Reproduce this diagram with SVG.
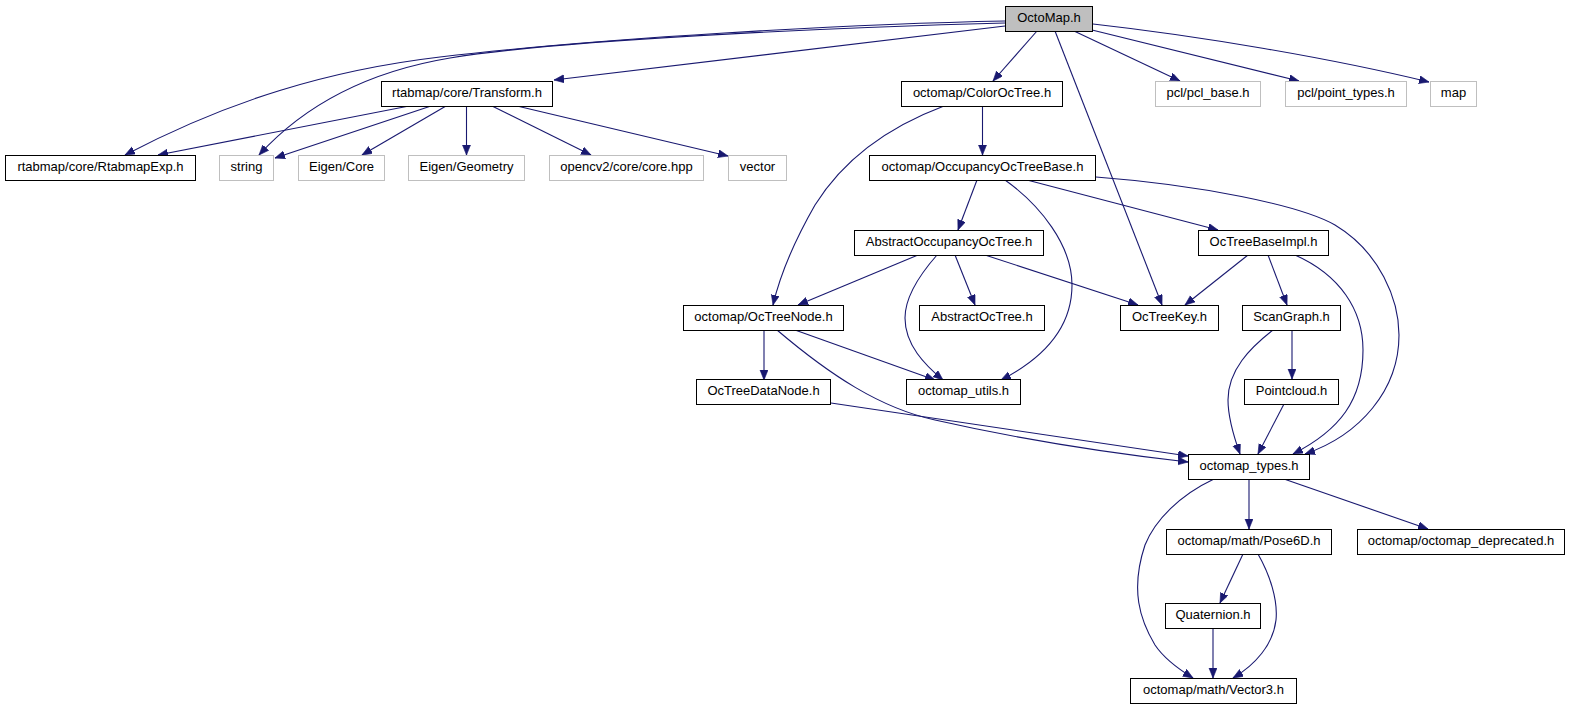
<svg xmlns="http://www.w3.org/2000/svg" width="1571" height="709" viewBox="0 0 1571 709">
<style>
.n rect{fill:#fff;stroke:#000;stroke-width:1}
.g rect{fill:#fff;stroke:#bfbfbf;stroke-width:1}
.c rect{fill:#bfbfbf;stroke:#000;stroke-width:1}
text{font-family:"Liberation Sans",Arial,sans-serif;font-size:13px;fill:#000;text-anchor:middle}
#edges path{fill:none;stroke:#191970;stroke-width:1.1;marker-end:url(#ah)}
</style>
<defs>
<marker id="ah" markerUnits="userSpaceOnUse" markerWidth="12" markerHeight="10" refX="10" refY="4" orient="auto">
<path d="M0,0 L10,4 L0,8 z" fill="#191970" stroke="#191970" stroke-width="0.6"/>
</marker>
</defs>
<rect width="1571" height="709" fill="#fff"/>
<g id="edges">
<path d="M1005,21 C850,24 600,38 440,57 C330,70 230,100 125,155"/>
<path d="M1005,23 C820,28 560,40 450,58 C360,73 300,110 259,155"/>
<path d="M1005,26 L554,80"/>
<path d="M1037,31 L993,81"/>
<path d="M1055,31 L1162,305"/>
<path d="M1074,31 L1180,81"/>
<path d="M1092,30 L1299,81"/>
<path d="M1093,24 C1200,36 1330,58 1429,82"/>
<path d="M409,106 L158,155"/>
<path d="M431,106 L275,158"/>
<path d="M446,106 L362,155"/>
<path d="M466.5,106 L466.5,155"/>
<path d="M492,106 L591,155"/>
<path d="M517,106 L728,156"/>
<path d="M982.5,106 L982.5,155"/>
<path d="M944,106 C880,130 840,165 815,205 C795,240 780,275 773,305"/>
<path d="M977,180 L958,230"/>
<path d="M1005,180 C1040,205 1072,245 1072,285 C1072,330 1040,360 1001,380"/>
<path d="M1027,180 L1218,230"/>
<path d="M1096,177 C1200,185 1300,205 1335,225 C1380,252 1399,300 1399,335 C1399,390 1360,435 1305,454"/>
<path d="M918,255 L798,305"/>
<path d="M937,255 C915,280 905,300 905,318 C905,345 925,365 943,380"/>
<path d="M955,255 L975,305"/>
<path d="M985,255 L1138,305"/>
<path d="M1248,255 L1185,305"/>
<path d="M1268,255 L1287,305"/>
<path d="M1295,255 C1340,275 1363,310 1363,350 C1363,400 1340,430 1293,454"/>
<path d="M764,330 L764,380"/>
<path d="M795,330 L935,380"/>
<path d="M777,330 C830,375 880,408 935,420 C1010,437 1100,452 1188,462"/>
<path d="M831,403 L1188,456"/>
<path d="M1292,330 L1292,379"/>
<path d="M1273,330 C1250,348 1228,370 1228,400 C1228,420 1235,440 1240,454"/>
<path d="M1284,404 L1258,454"/>
<path d="M1249,479 L1249,529"/>
<path d="M1284,479 L1428,529"/>
<path d="M1214,479 C1180,495 1155,520 1145,545 C1130,590 1140,620 1155,645 C1165,660 1180,670 1193,678"/>
<path d="M1243,554 L1220,603"/>
<path d="M1258,554 C1270,575 1278,600 1276,620 C1273,645 1255,665 1233,678"/>
<path d="M1213,628 L1213,678"/>
</g>
<g id="n_octomap" class="c"><rect x="1005.5" y="6.5" width="87" height="25"/><text x="1049" y="22">OctoMap.h</text></g>
<g id="n_transform" class="n"><rect x="381.5" y="81.5" width="171" height="25"/><text x="467" y="97">rtabmap/core/Transform.h</text></g>
<g id="n_rtabmapexp" class="n"><rect x="5.5" y="155.5" width="190" height="25"/><text x="100.5" y="171">rtabmap/core/RtabmapExp.h</text></g>
<g id="n_string" class="g"><rect x="219.5" y="155.5" width="54" height="25"/><text x="246.5" y="171">string</text></g>
<g id="n_eigencore" class="g"><rect x="298.5" y="155.5" width="86" height="25"/><text x="341.5" y="171">Eigen/Core</text></g>
<g id="n_eigengeom" class="g"><rect x="408.5" y="155.5" width="116" height="25"/><text x="466.5" y="171">Eigen/Geometry</text></g>
<g id="n_opencv" class="g"><rect x="549.5" y="155.5" width="154" height="25"/><text x="626.5" y="171">opencv2/core/core.hpp</text></g>
<g id="n_vector" class="g"><rect x="728.5" y="155.5" width="58" height="25"/><text x="757.5" y="171">vector</text></g>
<g id="n_coloroctree" class="n"><rect x="901.5" y="81.5" width="161" height="25"/><text x="982" y="97">octomap/ColorOcTree.h</text></g>
<g id="n_pclbase" class="g"><rect x="1155.5" y="81.5" width="105" height="25"/><text x="1208" y="97">pcl/pcl_base.h</text></g>
<g id="n_pointtypes" class="g"><rect x="1285.5" y="81.5" width="121" height="25"/><text x="1346" y="97">pcl/point_types.h</text></g>
<g id="n_map" class="g"><rect x="1430.5" y="81.5" width="46" height="25"/><text x="1453.5" y="97">map</text></g>
<g id="n_occbase" class="n"><rect x="869.5" y="155.5" width="226" height="25"/><text x="982.5" y="171">octomap/OccupancyOcTreeBase.h</text></g>
<g id="n_absocc" class="n"><rect x="854.5" y="230.5" width="189" height="25"/><text x="949" y="246">AbstractOccupancyOcTree.h</text></g>
<g id="n_baseimpl" class="n"><rect x="1198.5" y="230.5" width="130" height="25"/><text x="1263.5" y="246">OcTreeBaseImpl.h</text></g>
<g id="n_octreenode" class="n"><rect x="683.5" y="305.5" width="160" height="25"/><text x="763.5" y="321">octomap/OcTreeNode.h</text></g>
<g id="n_absoctree" class="n"><rect x="919.5" y="305.5" width="125" height="25"/><text x="982" y="321">AbstractOcTree.h</text></g>
<g id="n_octreekey" class="n"><rect x="1120.5" y="305.5" width="98" height="25"/><text x="1169.5" y="321">OcTreeKey.h</text></g>
<g id="n_scangraph" class="n"><rect x="1242.5" y="305.5" width="98" height="25"/><text x="1291.5" y="321">ScanGraph.h</text></g>
<g id="n_datanode" class="n"><rect x="696.5" y="379.5" width="134" height="25"/><text x="763.5" y="395">OcTreeDataNode.h</text></g>
<g id="n_utils" class="n"><rect x="906.5" y="379.5" width="114" height="25"/><text x="963.5" y="395">octomap_utils.h</text></g>
<g id="n_pointcloud" class="n"><rect x="1244.5" y="379.5" width="94" height="25"/><text x="1291.5" y="395">Pointcloud.h</text></g>
<g id="n_types" class="n"><rect x="1188.5" y="454.5" width="121" height="25"/><text x="1249" y="470">octomap_types.h</text></g>
<g id="n_pose6d" class="n"><rect x="1166.5" y="529.5" width="165" height="25"/><text x="1249" y="545">octomap/math/Pose6D.h</text></g>
<g id="n_deprecated" class="n"><rect x="1357.5" y="529.5" width="207" height="25"/><text x="1461" y="545">octomap/octomap_deprecated.h</text></g>
<g id="n_quaternion" class="n"><rect x="1165.5" y="603.5" width="95" height="25"/><text x="1213" y="619">Quaternion.h</text></g>
<g id="n_vector3" class="n"><rect x="1130.5" y="678.5" width="166" height="25"/><text x="1213.5" y="694">octomap/math/Vector3.h</text></g>
</svg>
